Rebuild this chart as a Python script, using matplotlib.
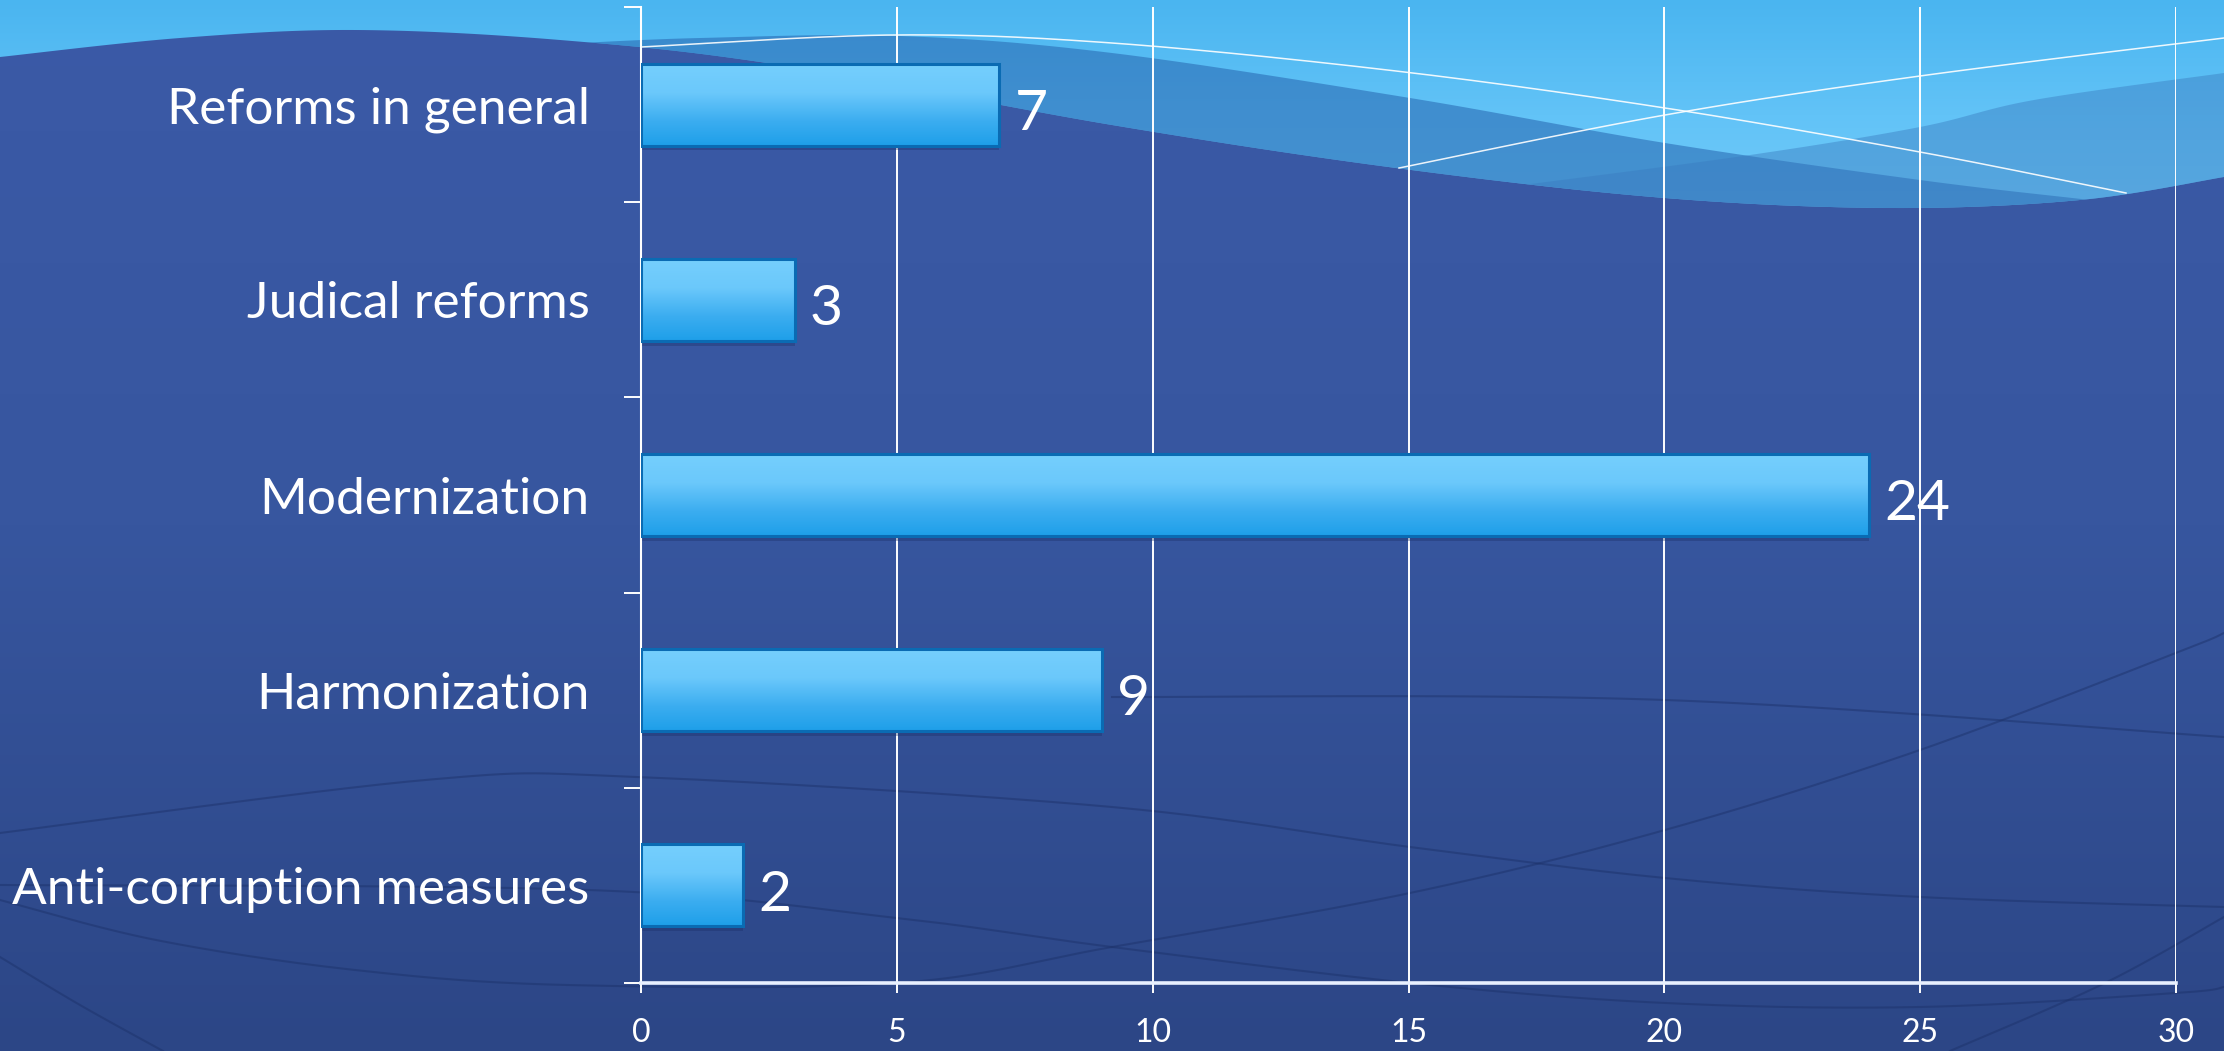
import matplotlib
matplotlib.use("Agg")
import matplotlib.pyplot as plt
import numpy as np
from matplotlib.colors import LinearSegmentedColormap
from matplotlib.patches import Polygon
from matplotlib.ticker import FixedLocator

# data
categories = ['Reforms in general', 'Judical reforms', 'Modernization',
              'Harmonization', 'Anti-corruption measures']
values = [7, 3, 24, 9, 2]
x_ticks = [0, 5, 10, 15, 20, 25, 30]

plt.rcParams['font.family'] = ['Lato', 'DejaVu Sans']

W, H = 2224, 1051
fig = plt.figure(figsize=(W / 100, H / 100), dpi=100)


# smooth curve through some guide points (Catmull-Rom)
def smooth(pts, steps=40):
    pts = np.asarray(pts, float)
    p = np.vstack([pts[0], pts, pts[-1]])
    out = []
    t = np.linspace(0, 1, steps, endpoint=False)[:, None]
    for i in range(1, len(p) - 2):
        p0, p1, p2, p3 = p[i - 1], p[i], p[i + 1], p[i + 2]
        out.append(0.5 * (2 * p1 + (-p0 + p2) * t
                          + (2 * p0 - 5 * p1 + 4 * p2 - p3) * t ** 2
                          + (-p0 + 3 * p1 - 3 * p2 + p3) * t ** 3))
    out.append(pts[-1:])
    return np.vstack(out)


# ---- background (pixel coordinates) ----
bg = fig.add_axes([0, 0, 1, 1], zorder=-5)
bg.set_xlim(0, W)
bg.set_ylim(H, 0)
bg.axis('off')

dark = LinearSegmentedColormap.from_list('dark', ['#3b5aa7', '#37569f', '#2c4686'])
bg.imshow(np.linspace(0, 1, 256).reshape(-1, 1), cmap=dark, aspect='auto',
          extent=[0, W, H, 0], zorder=0)

dark_edge = smooth([(0, 57), (180, 38), (355, 30), (560, 40), (780, 65), (1112, 125),
                    (1396, 168), (1665, 198), (1892, 208), (2080, 200), (2224, 177)])
light_poly = Polygon(np.vstack([[(0, 0)], dark_edge, [(W, 0)]]), closed=True,
                     facecolor='none', edgecolor='none')
bg.add_patch(light_poly)
light = LinearSegmentedColormap.from_list('light', ['#4ab5f0', '#62c3f7', '#74ccfa'])
im = bg.imshow(np.linspace(0, 1, 256).reshape(-1, 1), cmap=light, aspect='auto',
               extent=[0, W, 230, 0], zorder=1)
im.set_clip_path(light_poly)

wave_a = smooth([(560, 44), (700, 38), (900, 36), (1112, 53), (1410, 98), (1665, 143),
                 (1920, 180), (2090, 200), (2224, 215)])
pa = Polygon(np.vstack([wave_a, [(W, 300), (560, 300)]]), closed=True,
             facecolor='#2a6cb5', alpha=0.6, edgecolor='none', zorder=2)
bg.add_patch(pa)
pa.set_clip_path(light_poly)

wave_b = smooth([(1523, 185), (1750, 155), (1920, 127), (2034, 100), (2224, 73)])
pb = Polygon(np.vstack([wave_b, [(W, 300), (1523, 300)]]), closed=True,
             facecolor='#3a7cc0', alpha=0.45, edgecolor='none', zorder=3)
bg.add_patch(pb)
pb.set_clip_path(light_poly)

for pts in [[(641, 47), (893, 35), (1112, 43), (1396, 71), (1665, 108), (1920, 152), (2126, 193)],
            [(1399, 168), (1665, 115), (1920, 76), (2224, 38)]]:
    c = smooth(pts)
    bg.plot(c[:, 0], c[:, 1], color='white', lw=1.1, alpha=0.9, zorder=4)

# faint dark curves in the lower part
for pts in [[(0, 885), (589, 890), (897, 918), (1112, 947), (1410, 983), (1665, 1003),
             (1920, 1007), (2176, 993), (2224, 987)],
            [(0, 833), (425, 780), (638, 777), (1112, 807), (1410, 847), (1665, 878),
             (1920, 897), (2224, 907)],
            [(0, 900), (156, 940), (355, 970), (567, 985), (897, 983), (1112, 947),
             (1410, 893), (1665, 830), (1920, 750), (2176, 653), (2224, 633)],
            [(1950, 1051), (2105, 983), (2224, 917)],
            [(0, 957), (80, 1005), (163, 1051)],
            [(1112, 697), (1665, 700), (2224, 737)]]:
    c = smooth(pts)
    bg.plot(c[:, 0], c[:, 1], color='#1b3068', lw=1.5, alpha=0.45, zorder=1)

# ---- chart ----
ax = fig.add_axes([641 / W, 1 - 983 / H, (2176 - 641) / W, (983 - 7) / H])
ax.patch.set_alpha(0)

pos = np.arange(len(categories))[::-1]
bars = ax.barh(pos, values, height=0.42, color='none', edgecolor='#0a6bb3',
               lw=2.2, zorder=4)

bar_cmap = LinearSegmentedColormap.from_list(
    'bar', [(0, '#75cffd'), (0.35, '#6bc8fb'), (0.7, '#3badf0'), (1, '#1e9fe9')])
grad = np.linspace(0, 1, 256).reshape(-1, 1)
for b in bars:
    x0, y0 = b.get_x(), b.get_y()
    # soft shadow under the bar
    ax.barh(y0 + b.get_height() / 2 - 0.025, b.get_width(), height=b.get_height(),
            left=x0, color='#1a2f66', alpha=0.35, zorder=2.5)
    g = ax.imshow(grad, cmap=bar_cmap, aspect='auto', zorder=3,
                  extent=[x0, x0 + b.get_width(), y0, y0 + b.get_height()])
    g.set_clip_path(b)

for p, v in zip(pos, values):
    ax.text(v + 0.3, p - 0.05, str(v), color='white', fontsize=41,
            va='center', ha='left', zorder=5)

ax.set_xlim(0, 30)
ax.set_ylim(-0.5, len(categories) - 0.5)
ax.set_xticks(x_ticks)
ax.set_xticklabels([str(t) for t in x_ticks])
ax.yaxis.set_major_locator(FixedLocator(np.arange(-0.5, len(categories), 1.0)))
ax.yaxis.set_major_formatter(plt.NullFormatter())
ax.yaxis.set_minor_locator(FixedLocator(pos))
ax.set_yticklabels(categories, minor=True)

ax.tick_params(axis='x', colors='white', direction='out', length=7, width=1.4,
               labelsize=23, pad=18)
ax.tick_params(axis='y', which='major', colors='white', direction='out', length=12,
               width=1.4)
ax.tick_params(axis='y', which='minor', length=0, pad=37, labelsize=37,
               labelcolor='white')

ax.grid(axis='x', color='white', lw=1.4)
ax.set_axisbelow(True)
for s in ['top', 'right']:
    ax.spines[s].set_visible(False)
ax.spines['left'].set_color('white')
ax.spines['left'].set_linewidth(1.5)
ax.spines['bottom'].set_color('#e8f0ff')
ax.spines['bottom'].set_linewidth(2.6)

fig.savefig('out.png', dpi=100)
